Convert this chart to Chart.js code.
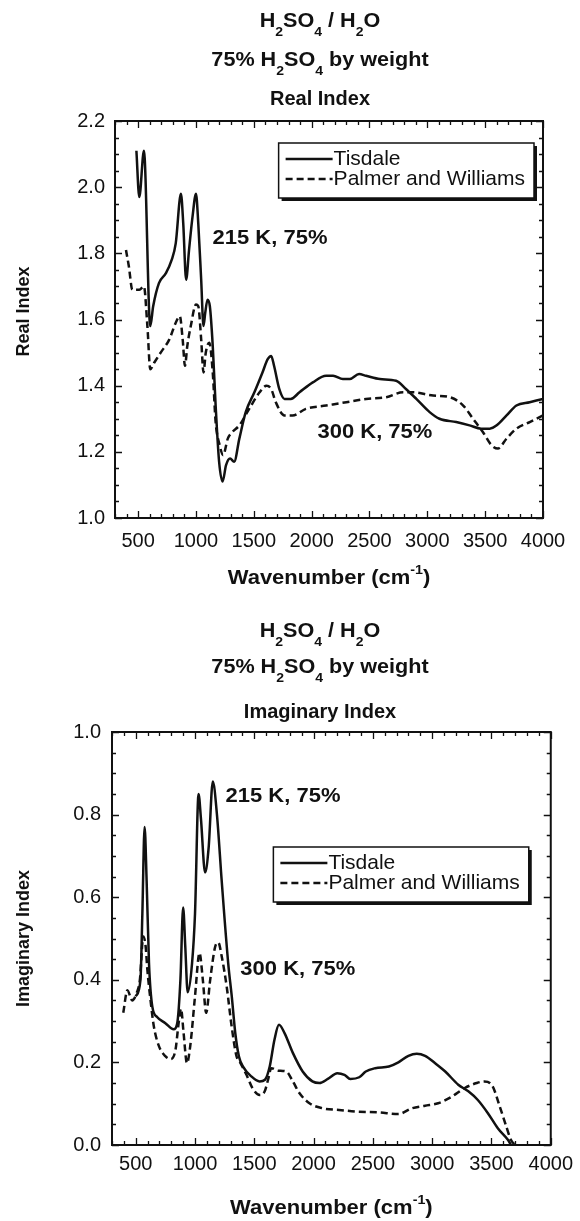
<!DOCTYPE html>
<html>
<head>
<meta charset="utf-8">
<script src="https://cdn.jsdelivr.net/npm/chart.js@4.4.1/dist/chart.umd.min.js"></script>
<style>
  html, body { margin: 0; padding: 0; background: #fff; }
  #wrap { position: relative; width: 580px; height: 1221px; }
  canvas { position: absolute; left: 0; }
</style>
</head>
<body>
<div id="wrap">
  <canvas id="realChart" width="580" height="610" style="top:0"></canvas>
  <canvas id="imagChart" width="580" height="611" style="top:610px"></canvas>
</div>
<script>
// tick labels
const wavenumberTicks = [500, 1000, 1500, 2000, 2500, 3000, 3500, 4000];
const realTicks = [1.0, 1.2, 1.4, 1.6, 1.8, 2.0, 2.2];
const imagTicks = [0.0, 0.2, 0.4, 0.6, 0.8, 1.0];
const seriesNames = ['Tisdale', 'Palmer and Williams'];

// real index, [wavenumber, n]
const realTisdale = [[485,2.11],[510,1.97],[550,2.11],[605,1.58],[630,1.64],[680,1.71],[740,1.74],[790,1.78],[825,1.83],[870,1.98],[890,1.89],[915,1.72],[940,1.81],[970,1.91],[1000,1.98],[1020,1.89],[1045,1.72],[1065,1.58],[1080,1.62],[1100,1.66],[1120,1.64],[1145,1.52],[1170,1.34],[1200,1.17],[1230,1.11],[1260,1.16],[1295,1.18],[1330,1.17],[1375,1.24],[1430,1.32],[1505,1.38],[1575,1.44],[1620,1.48],[1650,1.49],[1675,1.46],[1720,1.39],[1765,1.36],[1820,1.36],[1895,1.38],[2010,1.41],[2125,1.43],[2185,1.43],[2270,1.42],[2330,1.42],[2410,1.435],[2470,1.43],[2590,1.42],[2730,1.415],[2815,1.39],[2905,1.36],[3020,1.32],[3105,1.30],[3250,1.29],[3365,1.28],[3465,1.27],[3540,1.27],[3600,1.28],[3685,1.31],[3770,1.34],[3885,1.35],[4000,1.36]];
const realPalmer = [[395,1.81],[420,1.76],[450,1.69],[510,1.69],[550,1.70],[580,1.58],[605,1.45],[640,1.47],[695,1.50],[770,1.54],[825,1.59],[860,1.61],[885,1.54],[905,1.46],[925,1.52],[955,1.58],[1000,1.645],[1020,1.64],[1045,1.54],[1065,1.44],[1085,1.50],[1115,1.53],[1145,1.44],[1170,1.29],[1205,1.22],[1235,1.19],[1275,1.24],[1315,1.26],[1375,1.28],[1460,1.33],[1550,1.38],[1610,1.40],[1650,1.39],[1690,1.35],[1765,1.31],[1835,1.31],[1950,1.33],[2125,1.34],[2300,1.35],[2470,1.36],[2645,1.365],[2790,1.38],[2875,1.38],[3050,1.37],[3195,1.365],[3310,1.34],[3395,1.30],[3480,1.26],[3555,1.22],[3610,1.21],[3685,1.24],[3770,1.27],[3885,1.29],[4000,1.31]];

// imaginary index, [wavenumber, k]
const imagTisdale = [[500,0.36],[540,0.40],[556,0.56],[575,0.77],[592,0.64],[612,0.44],[640,0.335],[680,0.31],[750,0.295],[820,0.28],[850,0.295],[877,0.40],[900,0.575],[918,0.48],[938,0.37],[975,0.44],[1000,0.56],[1030,0.85],[1050,0.79],[1085,0.66],[1115,0.72],[1150,0.88],[1185,0.80],[1225,0.64],[1280,0.44],[1310,0.36],[1340,0.27],[1370,0.215],[1405,0.19],[1475,0.166],[1545,0.154],[1590,0.158],[1630,0.19],[1670,0.255],[1708,0.291],[1755,0.271],[1825,0.223],[1908,0.178],[1990,0.154],[2050,0.150],[2120,0.16],[2200,0.174],[2260,0.17],[2310,0.16],[2385,0.164],[2440,0.178],[2520,0.186],[2635,0.19],[2715,0.20],[2800,0.216],[2870,0.221],[2940,0.216],[3025,0.198],[3110,0.178],[3220,0.146],[3305,0.13],[3385,0.109],[3470,0.077],[3555,0.04],[3640,0.012],[3665,0.0]];
const imagPalmer = [[395,0.32],[430,0.375],[470,0.35],[508,0.368],[535,0.40],[564,0.505],[584,0.48],[598,0.425],[625,0.35],[653,0.287],[695,0.24],[750,0.215],[795,0.208],[835,0.23],[862,0.295],[882,0.33],[904,0.27],[932,0.198],[960,0.24],[1000,0.36],[1038,0.465],[1066,0.40],[1094,0.32],[1128,0.40],[1170,0.48],[1197,0.49],[1225,0.457],[1267,0.384],[1309,0.287],[1350,0.215],[1380,0.2],[1434,0.17],[1490,0.135],[1546,0.121],[1588,0.13],[1616,0.158],[1643,0.186],[1700,0.18],[1770,0.178],[1825,0.154],[1880,0.126],[1965,0.101],[2075,0.089],[2215,0.085],[2355,0.081],[2550,0.079],[2715,0.075],[2830,0.089],[2940,0.095],[3050,0.101],[3165,0.117],[3275,0.138],[3375,0.15],[3440,0.154],[3510,0.142],[3570,0.093],[3625,0.045],[3665,0.012],[3700,0.0]];

const ink = '#111';
const FAMILY = '"Liberation Sans", Arial, Helvetica, sans-serif';
const bold = s => `bold ${s}px ${FAMILY}`;
const plain = s => `${s}px ${FAMILY}`;

// rich text: [text, 'sub'|'sup'|undefined], drawn bold, slightly widened like the scan
function richWidth(ctx, parts, size) {
  let w = 0;
  parts.forEach(([t, k]) => { ctx.font = bold(k ? size * 0.65 : size); w += ctx.measureText(t).width; });
  return w;
}
function drawRich(ctx, parts, cx, cy, size, stretch = 1) {
  ctx.save();
  ctx.translate(cx, cy);
  ctx.scale(stretch, 1);
  let x = -richWidth(ctx, parts, size) / 2;
  ctx.textAlign = 'left';
  ctx.textBaseline = 'middle';
  parts.forEach(([t, k]) => {
    ctx.font = bold(k ? size * 0.65 : size);
    const dy = k === 'sub' ? size * 0.58 : k === 'sup' ? -size * 0.36 : 0;
    ctx.fillText(t, x, dy);
    x += ctx.measureText(t).width;
  });
  ctx.restore();
}

const formulaRow = [['H'], ['2', 'sub'], ['SO'], ['4', 'sub'], [' / H'], ['2', 'sub'], ['O']];
const weightRow = [['75% H'], ['2', 'sub'], ['SO'], ['4', 'sub'], [' by weight']];
const xTitle = [['Wavenumber (cm'], ['-1', 'sup'], [')']];

const decoPlugin = {
  id: 'deco',
  afterDraw(chart, args, o) {
    const {ctx, chartArea: a, scales: {x, y}} = chart;
    ctx.save();
    ctx.fillStyle = ink;
    ctx.strokeStyle = ink;

    // inward ticks on all four sides
    ctx.lineWidth = 1.3;
    ctx.beginPath();
    const nx = Math.round((x.max - x.min) / o.xMinor);
    for (let i = 0; i <= nx; i++) {
      const v = x.min + i * o.xMinor;
      const px = Math.round(x.getPixelForValue(v)) + 0.5;
      const len = v % o.xMajor === 0 ? 7 : 4;
      ctx.moveTo(px, a.bottom); ctx.lineTo(px, a.bottom - len);
      ctx.moveTo(px, a.top); ctx.lineTo(px, a.top + len);
    }
    const ny = Math.round((y.max - y.min) / o.yMinor);
    for (let i = 0; i <= ny; i++) {
      const v = y.min + i * o.yMinor;
      const py = Math.round(y.getPixelForValue(v)) + 0.5;
      const r = v / o.yMajor;
      const len = Math.abs(r - Math.round(r)) < 1e-6 ? 7 : 4;
      ctx.moveTo(a.left, py); ctx.lineTo(a.left + len, py);
      ctx.moveTo(a.right, py); ctx.lineTo(a.right - len, py);
    }
    ctx.stroke();

    // frame
    ctx.lineWidth = 2;
    ctx.strokeRect(a.left, a.top, a.width, a.height);

    // titles
    drawRich(ctx, formulaRow, o.titleX, o.titleY[0], 20, 1.08);
    drawRich(ctx, weightRow, o.titleX, o.titleY[1], 20, 1.08);
    drawRich(ctx, [[o.subtitle]], o.titleX, o.titleY[2], 20, 1.0);

    // axis titles
    drawRich(ctx, xTitle, (a.left + a.right) / 2, o.xTitleY, 20, 1.1);
    ctx.save();
    ctx.translate(o.yTitleX, (a.top + a.bottom) / 2 + o.yTitleShift);
    ctx.rotate(-Math.PI / 2);
    drawRich(ctx, [[o.yTitle]], 0, 0, 18);
    ctx.restore();

    // curve labels
    o.notes.forEach(n => {
      drawRich(ctx, [[n.text]], x.getPixelForValue(n.x), y.getPixelForValue(n.y), 20, 1.1);
    });

    // legend box with shadow
    ctx.font = plain(21);
    const ds = chart.data.datasets;
    const tw = Math.max(...ds.map(d => ctx.measureText(d.label).width));
    const bw = 56 + tw + 8, bh = 55;
    const bx = a.right - o.legendRight - bw, by = a.top + o.legendTop;
    ctx.fillRect(bx + 3, by + 3, bw, bh);
    ctx.fillStyle = '#fff';
    ctx.fillRect(bx, by, bw, bh);
    ctx.fillStyle = ink;
    ctx.lineWidth = 1.5;
    ctx.strokeRect(bx, by, bw, bh);
    ctx.textAlign = 'left';
    ctx.textBaseline = 'middle';
    ds.forEach((d, i) => {
      const ry = by + 16 + i * 20;
      ctx.save();
      ctx.lineWidth = d.borderWidth;
      ctx.setLineDash(d.borderDash || []);
      ctx.beginPath();
      ctx.moveTo(bx + 7, ry); ctx.lineTo(bx + 54, ry);
      ctx.stroke();
      ctx.restore();
      ctx.font = plain(21);
      ctx.fillText(d.label, bx + 55, ry);
    });
    ctx.restore();
  }
};

function makeChart(id, tisdale, palmer, yTicks, yRange, o) {
  const tickFont = { family: FAMILY, size: 20 };
  return new Chart(document.getElementById(id), {
    type: 'line',
    data: {
      datasets: [
        { label: seriesNames[0], data: tisdale.map(p => ({x: p[0], y: p[1]})),
          borderColor: ink, borderWidth: 2.5, pointRadius: 0, cubicInterpolationMode: 'monotone' },
        { label: seriesNames[1], data: palmer.map(p => ({x: p[0], y: p[1]})),
          borderColor: ink, borderWidth: 2.5, borderDash: [7, 4], pointRadius: 0, cubicInterpolationMode: 'monotone' }
      ]
    },
    options: {
      responsive: false,
      animation: false,
      layout: { padding: { top: o.padTop, right: o.padRight, left: 0, bottom: 0 } },
      plugins: { legend: { display: false }, tooltip: { enabled: false }, deco: o },
      scales: {
        x: {
          type: 'linear', min: 300, max: 4000,
          afterBuildTicks: s => { s.ticks = wavenumberTicks.map(v => ({value: v})); },
          afterFit: s => { s.height = o.xHeight; },
          grid: { display: false, drawTicks: false },
          border: { display: false },
          ticks: { color: ink, font: tickFont, padding: o.xPad, maxRotation: 0, autoSkip: false, callback: v => String(v) }
        },
        y: {
          min: yRange[0], max: yRange[1],
          afterBuildTicks: s => { s.ticks = yTicks.map(v => ({value: v})); },
          afterFit: s => { s.width = o.yWidth; },
          grid: { display: false, drawTicks: false },
          border: { display: false },
          ticks: { color: ink, font: tickFont, padding: o.yPad, callback: v => v.toFixed(1) }
        }
      }
    },
    plugins: [decoPlugin]
  });
}

makeChart('realChart', realTisdale, realPalmer, realTicks, [1.0, 2.2], {
  padTop: 121, padRight: 37, xHeight: 92, yWidth: 115, xPad: 11, yPad: 10,
  xMinor: 100, xMajor: 500, yMinor: 0.05, yMajor: 0.2,
  titleX: 320, titleY: [21, 60, 99], subtitle: 'Real Index',
  xTitleY: 578, yTitle: 'Real Index', yTitleX: 24, yTitleShift: -8,
  legendRight: 9, legendTop: 22,
  notes: [{x: 1640, y: 1.846, text: '215 K, 75%'}, {x: 2547, y: 1.257, text: '300 K, 75%'}]
});

makeChart('imagChart', imagTisdale, imagPalmer, imagTicks, [0.0, 1.0], {
  padTop: 122, padRight: 26, xHeight: 76, yWidth: 112, xPad: 7, yPad: 11,
  xMinor: 100, xMajor: 500, yMinor: 0.05, yMajor: 0.2,
  titleX: 320, titleY: [21, 57, 102], subtitle: 'Imaginary Index',
  xTitleY: 598, yTitle: 'Imaginary Index', yTitleX: 24, yTitleShift: 0,
  legendRight: 22, legendTop: 115,
  notes: [{x: 1742, y: 0.845, text: '215 K, 75%'}, {x: 1867, y: 0.425, text: '300 K, 75%'}]
});
</script>
</body>
</html>
